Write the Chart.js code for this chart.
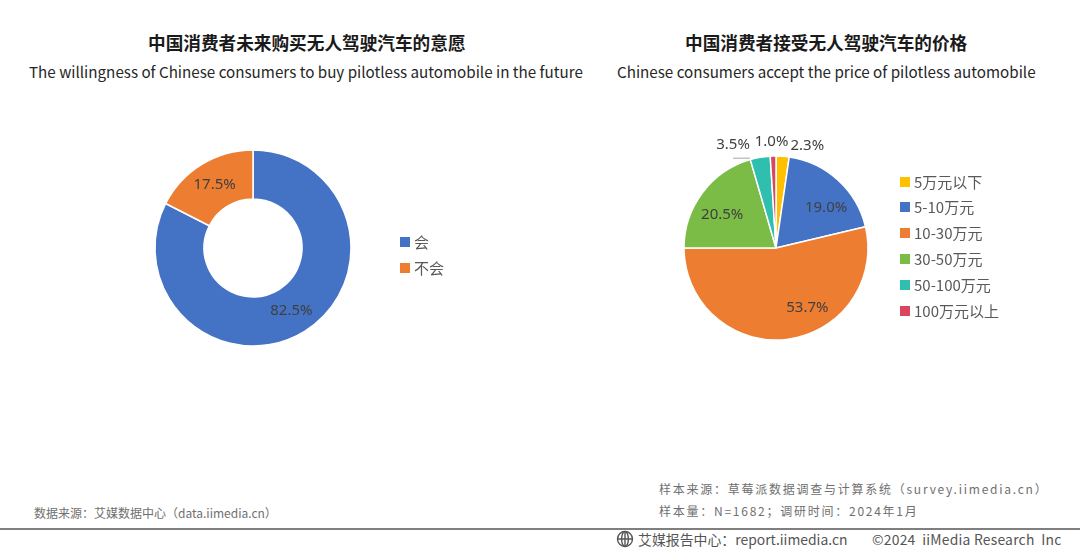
<!DOCTYPE html>
<html>
<head>
<meta charset="utf-8">
<script src="https://cdn.jsdelivr.net/npm/chart.js@4"></script>
<style>
  html, body { margin: 0; padding: 0; background: #fff; }
  body { width: 1080px; height: 553px; position: relative; overflow: hidden; font-family: "Noto Sans CJK SC", "Noto Sans", sans-serif; color: #404040; }
  .txt { position: absolute; white-space: nowrap; }
  .title { font-size: 17.65px; font-weight: 700; color: #1a1a1a; line-height: 20px; }
  .sub { font-size: 15.2px; color: #262626; line-height: 20px; }
  .note { font-size: 12px; color: #6f6f6f; line-height: 16px; letter-spacing: 1.75px; }
  .foot { font-size: 13.9px; color: #555; line-height: 18px; }
  .legend-item { position: absolute; font-size: 15px; line-height: 18px; color: #595959; white-space: nowrap; padding-left: 14px; }
  .legend-item i { position: absolute; left: 0; top: 4px; width: 10px; height: 10px; }
  canvas { position: absolute; }
  #rule { position: absolute; left: 0; top: 528px; width: 1080px; height: 2px; background: #7f7f7f; }
</style>
</head>
<body>
<div class="txt title" id="title1" style="left:148px;top:33px">中国消费者未来购买无人驾驶汽车的意愿</div>
<div class="txt sub" id="sub1" style="left:29px;top:61px">The willingness of Chinese consumers to buy pilotless automobile in the future</div>
<div class="txt title" id="title2" style="left:685px;top:33px">中国消费者接受无人驾驶汽车的价格</div>
<div class="txt sub" id="sub2" style="left:617px;top:61px">Chinese consumers accept the price of pilotless automobile</div>

<canvas id="donut" width="300" height="300" style="left:103px;top:98px;width:300px;height:300px"></canvas>
<canvas id="pie" width="300" height="300" style="left:626px;top:98px;width:300px;height:300px"></canvas>
<div id="legend1"></div>
<div id="legend2"></div>

<div class="txt note" style="left:34px;top:505px;letter-spacing:0">数据来源：艾媒数据中心（data.iimedia.cn）</div>
<div class="txt note" style="left:659px;top:481px">样本来源：草莓派数据调查与计算系统（survey.iimedia.cn）</div>
<div class="txt note" style="left:659px;top:503px">样本量：N=1682；调研时间：2024年1月</div>
<div id="rule"></div>
<svg style="position:absolute;left:616px;top:530px" width="18" height="18" viewBox="0 0 18 18" fill="none" stroke="#555" stroke-width="1.4">
  <circle cx="9" cy="9" r="7.5"/><ellipse cx="9" cy="9" rx="3.4" ry="7.5"/><path d="M1.5 9h15M9 1.5v15"/>
</svg>
<div class="txt foot" style="left:638px;top:530px">艾媒报告中心：report.iimedia.cn</div>
<div class="txt foot" style="left:872px;top:530px;letter-spacing:.22px">©2024&nbsp; iiMedia Research&nbsp; Inc</div>

<script>
const willCategories = ['会', '不会']
const willValues = [82.5, 17.5]
const willColors = ['#4472C4', '#ED7D31']

const priceCategories = ['5万元以下', '5-10万元', '10-30万元', '30-50万元', '50-100万元', '100万元以上']
const priceValues = [2.3, 19.0, 53.7, 20.5, 3.5, 1.0]
const priceColors = ['#FFC000', '#4472C4', '#ED7D31', '#7ABC45', '#2FBFAF', '#D9475F']

// labels outside the pie need a hand placed nudge from the slice centre
const priceNudge = [[28, -56], [19, -6], [26, 14], [-17, -6], [-35, -58], [-3, -60]]
const willNudge = [[0, 0], [0, -1]]

// draws "xx.x%" on each slice, there is no datalabels plugin here
const sliceLabels = {
  id: 'sliceLabels',
  afterDatasetsDraw(chart, args, opts) {
    const ctx = chart.ctx
    const meta = chart.getDatasetMeta(0)
    ctx.save()
    ctx.font = '15px "Noto Sans", "Noto Sans CJK SC", sans-serif'
    ctx.fillStyle = '#404040'
    ctx.textAlign = 'center'
    ctx.textBaseline = 'middle'
    meta.data.forEach(function (arc, i) {
      const p = arc.tooltipPosition()
      const n = opts.nudge[i]
      const v = chart.data.datasets[0].data[i]
      ctx.fillText(v.toFixed(1) + '%', p.x + n[0], p.y + n[1])
    })
    if (opts.leader !== undefined) {
      // leader line of the 3.5% label
      const a = meta.data[opts.leader]
      const top = a.tooltipPosition()
      ctx.strokeStyle = '#a6a6a6'
      ctx.lineWidth = 1
      ctx.beginPath()
      ctx.moveTo(top.x - 35, top.y - 44.5)
      ctx.lineTo(top.x - 18, top.y - 44.5)
      ctx.stroke()
    }
    ctx.restore()
  }
}

function makeChart(id, type, labels, values, colors, cutout, radius, nudge, leader) {
  return new Chart(document.getElementById(id), {
    type: type,
    data: {
      labels: labels,
      datasets: [{ data: values, backgroundColor: colors, borderColor: '#fff', borderWidth: 1.5 }]
    },
    options: {
      responsive: false,
      animation: false,
      cutout: cutout,
      radius: radius,
      layout: { padding: 0 },
      plugins: {
        legend: { display: false },
        tooltip: { enabled: false },
        sliceLabels: { nudge: nudge, leader: leader }
      }
    },
    plugins: [sliceLabels]
  })
}

makeChart('donut', 'doughnut', willCategories, willValues, willColors, '50%', 98, willNudge)
makeChart('pie', 'pie', priceCategories, priceValues, priceColors, 0, 92, priceNudge, 4)

function makeLegend(id, labels, colors, left, top, step) {
  const box = document.getElementById(id)
  labels.forEach(function (name, i) {
    const row = document.createElement('div')
    row.className = 'legend-item'
    row.style.left = left + 'px'
    row.style.top = (top + i * step) + 'px'
    row.textContent = name
    const sw = document.createElement('i')
    sw.style.background = colors[i]
    row.appendChild(sw)
    box.appendChild(row)
  })
}
makeLegend('legend1', willCategories, willColors, 400, 233, 26)
makeLegend('legend2', priceCategories, priceColors, 900, 172.5, 25.8)
</script>
</body>
</html>
